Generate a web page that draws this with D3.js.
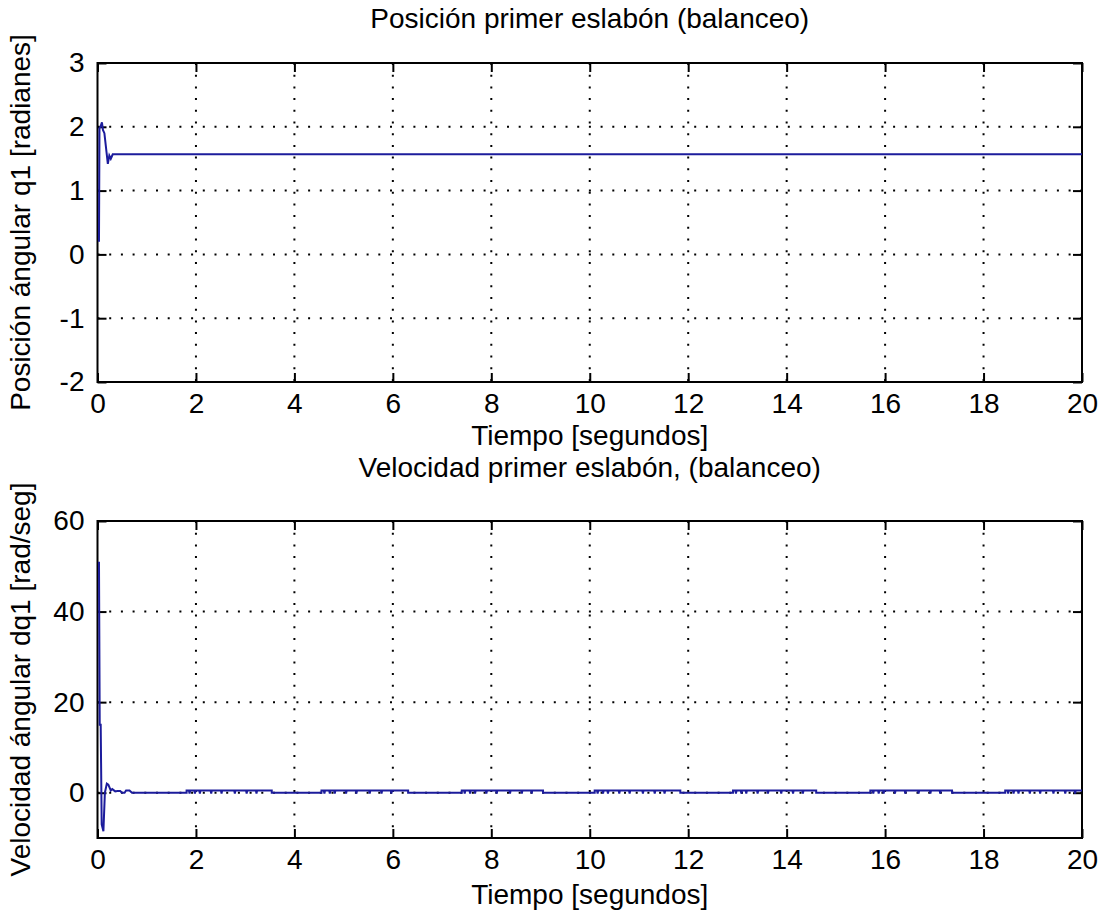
<!DOCTYPE html>
<html>
<head>
<meta charset="utf-8">
<script src="https://cdn.jsdelivr.net/npm/d3@7"></script>
<style>
  html, body { margin: 0; padding: 0; background: #fff; }
  svg text { font-family: "Liberation Sans", Arial, sans-serif; fill: #000; }
</style>
</head>
<body>
<div id="chart"></div>
<script>
// x axis (shared)
const xTicks = [0, 2, 4, 6, 8, 10, 12, 14, 16, 18, 20];

// top panel: q1 position
const q1Ticks = [-2, -1, 0, 1, 2, 3];
const q1Time = [0.03, 0.04, 0.06, 0.09, 0.11, 0.14, 0.21, 0.24, 0.27, 0.31, 20];
const q1Vals = [0.2, 1.98, 2.0, 2.07, 1.95, 1.9, 1.42, 1.55, 1.5, 1.57, 1.57];

// bottom panel: dq1 velocity
const dq1Ticks = [0, 20, 40, 60];
// initial transient
const dq1Time = [0.03, 0.045, 0.065, 0.085, 0.12, 0.15, 0.19, 0.22, 0.27, 0.30, 0.36, 0.40, 0.46, 0.50, 0.55, 0.58, 0.65, 0.70];
const dq1Vals = [51, 15, 15, -7, -8.5, 0, 2, 1.8, 0.5, 0.8, 0.3, 0.4, 0.4, 0, 0, 0.5, 0.5, 0];
// small staircase ripple bands after the transient
const bandStart = [1.81, 4.55, 7.40, 10.10, 12.91, 15.70, 18.44];
const bandEnd   = [3.54, 6.31, 9.05, 11.84, 14.60, 17.36, 20.00];
const bandLevel = 0.5;
const dipTimes = [1.87, 1.98, 2.08, 2.31, 2.52, 2.79, 3.03, 3.23,
                  4.61, 4.72, 4.82, 5.05, 5.26, 5.53, 5.77, 5.97,
                  7.46, 7.57, 7.67, 7.90, 8.11, 8.38, 8.62, 8.82,
                  10.16, 10.27, 10.37, 10.60, 10.81, 11.08, 11.32, 11.52,
                  12.97, 13.08, 13.18, 13.41, 13.62, 13.89, 14.13, 14.33,
                  15.76, 15.87, 15.97, 16.20, 16.41, 16.68, 16.92, 17.12,
                  18.50, 18.61, 18.71, 18.94, 19.15, 19.42, 19.66, 19.86];
const dipLevel = -0.2;

const width = 1099, height = 919;
const left = 97.5, right = 1082;
const lineColor = "#1c1c9c";

const svg = d3.select("#chart").append("svg")
  .attr("width", width)
  .attr("height", height);

const x = d3.scaleLinear().domain([0, 20]).range([left, right]);

// build velocity series: transient, then flat zero with ripple bands
let dq1 = dq1Time.map((t, i) => [t, dq1Vals[i]]);
bandStart.forEach((s, b) => {
  const e = bandEnd[b];
  dq1.push([s, 0], [s, bandLevel]);
  dipTimes.filter(d => d > s && d < e).forEach(d => {
    dq1.push([d - 0.012, bandLevel], [d, dipLevel], [d + 0.012, bandLevel]);
  });
  dq1.push([e, bandLevel]);
  if (e < 20) dq1.push([e, 0]);
});

function panel(opts) {
  const y = d3.scaleLinear().domain(opts.yDomain).range([opts.bottom, opts.top]);
  const g = svg.append("g");

  // grid
  g.append("g").selectAll("line.gx")
    .data(xTicks.slice(1, -1))
    .enter().append("line")
    .attr("x1", d => x(d)).attr("x2", d => x(d))
    .attr("y1", opts.top).attr("y2", opts.bottom)
    .attr("stroke", "#000").attr("stroke-width", 2)
    .attr("stroke-dasharray", "2,9.7");
  g.append("g").selectAll("line.gy")
    .data(opts.yTicks.filter(d => d > opts.yDomain[0] && d < opts.yDomain[1]))
    .enter().append("line")
    .attr("x1", left).attr("x2", right)
    .attr("y1", d => y(d)).attr("y2", d => y(d))
    .attr("stroke", "#000").attr("stroke-width", 2)
    .attr("stroke-dasharray", "2,9.7");

  // axes with inward ticks
  const fmt = d => String(d);
  const axB = g.append("g").attr("transform", `translate(0,${opts.bottom})`)
    .call(d3.axisBottom(x).tickValues(xTicks).tickFormat(fmt).tickSizeInner(-9).tickSizeOuter(0).tickPadding(11));
  const axT = g.append("g").attr("transform", `translate(0,${opts.top})`)
    .call(d3.axisTop(x).tickValues(xTicks).tickSizeInner(-9).tickSizeOuter(0).tickFormat(""));
  const axL = g.append("g").attr("transform", `translate(${left},0)`)
    .call(d3.axisLeft(y).tickValues(opts.yTicks).tickFormat(fmt).tickSizeInner(-9).tickSizeOuter(0).tickPadding(13));
  const axR = g.append("g").attr("transform", `translate(${right},0)`)
    .call(d3.axisRight(y).tickValues(opts.yTicks).tickSizeInner(-9).tickSizeOuter(0).tickFormat(""));
  [axB, axT, axL, axR].forEach(a => {
    a.select(".domain").remove();
    a.selectAll(".tick line").attr("stroke", "#000").attr("stroke-width", 2);
    a.selectAll(".tick text").attr("font-size", 28).attr("font-family", "Liberation Sans, Arial, sans-serif").attr("fill", "#000");
  });

  // box
  g.append("rect")
    .attr("x", left).attr("y", opts.top)
    .attr("width", right - left).attr("height", opts.bottom - opts.top)
    .attr("fill", "none").attr("stroke", "#000").attr("stroke-width", 2);

  // data line
  const line = d3.line().x(d => x(d[0])).y(d => y(d[1]));
  g.append("path")
    .datum(opts.data)
    .attr("d", line)
    .attr("fill", "none")
    .attr("stroke", lineColor)
    .attr("stroke-width", 2);

  // title and labels
  g.append("text")
    .attr("x", (left + right) / 2).attr("y", opts.titleY)
    .attr("text-anchor", "middle").attr("font-size", 28)
    .text(opts.title);
  g.append("text")
    .attr("x", (left + right) / 2).attr("y", opts.xLabelY)
    .attr("text-anchor", "middle").attr("font-size", 28)
    .text("Tiempo [segundos]");
  g.append("text")
    .attr("transform", `translate(30,${(opts.top + opts.bottom) / 2}) rotate(-90)`)
    .attr("text-anchor", "middle").attr("font-size", 28)
    .text(opts.yLabel);
}

panel({
  top: 63, bottom: 382,
  yDomain: [-2, 3], yTicks: q1Ticks,
  data: q1Time.map((t, i) => [t, q1Vals[i]]),
  title: "Posición primer eslabón (balanceo)", titleY: 28,
  xLabelY: 445,
  yLabel: "Posición ángular q1 [radianes]"
});

panel({
  top: 521, bottom: 838,
  yDomain: [-10, 60], yTicks: dq1Ticks,
  data: dq1,
  title: "Velocidad primer eslabón, (balanceo)", titleY: 477,
  xLabelY: 904,
  yLabel: "Velocidad ángular dq1 [rad/seg]"
});
</script>
</body>
</html>
